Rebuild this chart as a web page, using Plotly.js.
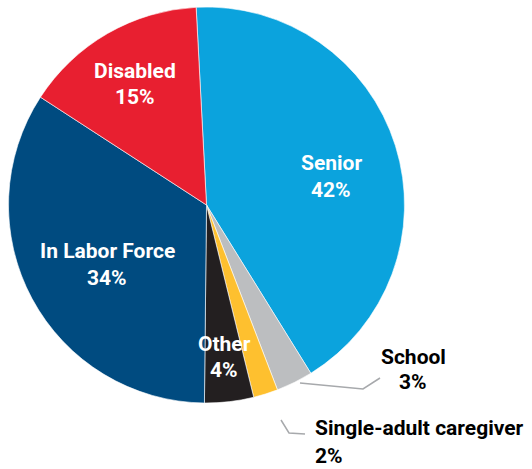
<!DOCTYPE html>
<html>
<head>
<meta charset="utf-8">
<script src="https://cdn.plot.ly/plotly-3.0.1.min.js"></script>
<style>html,body{margin:0;padding:0;background:#fff;}#chart{width:532px;height:469px;}</style>
</head>
<body>
<div id="chart"></div>
<script>
const categories = ["Senior", "School", "Single-adult caregiver", "Other", "In Labor Force", "Disabled"];
const shares = [42, 3, 2, 4, 34, 15];
const sliceColors = ["#0ba3dd", "#bcbec0", "#fec02f", "#231f20", "#004b80", "#e81f30"];

// label placement (pixels) and text colour
const labelPos = [
  {x: 331, y1: 163, y2: 190, c: "#fff", xa: "center"},
  {x: 413, y1: 357, y2: 382, c: "#000", xa: "center"},
  {x: 313, y1: 428, y2: 456, c: "#000", xa: "left"},
  {x: 224, y1: 344, y2: 370, c: "#fff", xa: "center"},
  {x: 107, y1: 251, y2: 278, c: "#fff", xa: "center"},
  {x: 135, y1: 71, y2: 97, c: "#fff", xa: "center"}
];
const W = 532, H = 469;
const FONT = "Roboto, sans-serif";

const annotations = [];
categories.forEach((cat, i) => {
  const p = labelPos[i];
  const f = {family: FONT, size: 21, color: p.c, weight: "bold"};
  annotations.push({xref: "paper", yref: "paper", x: p.x / W, y: 1 - p.y1 / H, xanchor: p.xa, yanchor: "middle",
    text: "<b>" + cat + "</b>", showarrow: false, font: f});
  annotations.push({xref: "paper", yref: "paper", x: p.x / W, y: 1 - p.y2 / H, xanchor: p.xa, yanchor: "middle",
    text: "<b>" + shares[i] + "%</b>", showarrow: false, font: f});
});

const shapes = [
  {type: "path", xref: "paper", yref: "paper",
   path: "M " + (300/W) + "," + (1-383/H) + " L " + (363/W) + "," + (1-389/H) + " L " + (380/W) + "," + (1-378/H),
   line: {color: "#a7a9ac", width: 1.5}},
  {type: "path", xref: "paper", yref: "paper",
   path: "M " + (281/W) + "," + (1-420/H) + " L " + (289/W) + "," + (1-433/H) + " L " + (305/W) + "," + (1-434/H),
   line: {color: "#a7a9ac", width: 1.5}}
];

Plotly.newPlot("chart", [{
  type: "pie",
  labels: categories,
  values: shares,
  sort: false,
  direction: "clockwise",
  rotation: -3,
  marker: {colors: sliceColors, line: {color: "#ffffff", width: 0.6}},
  textinfo: "none",
  hoverinfo: "label+percent",
  domain: {x: [8/W, 405/W], y: [1 - 403/H, 1 - 7/H]}
}], {
  width: W, height: H,
  margin: {l: 0, r: 0, t: 0, b: 0},
  showlegend: false,
  paper_bgcolor: "#fff",
  annotations: annotations,
  shapes: shapes
}, {displayModeBar: false});
</script>
</body>
</html>
